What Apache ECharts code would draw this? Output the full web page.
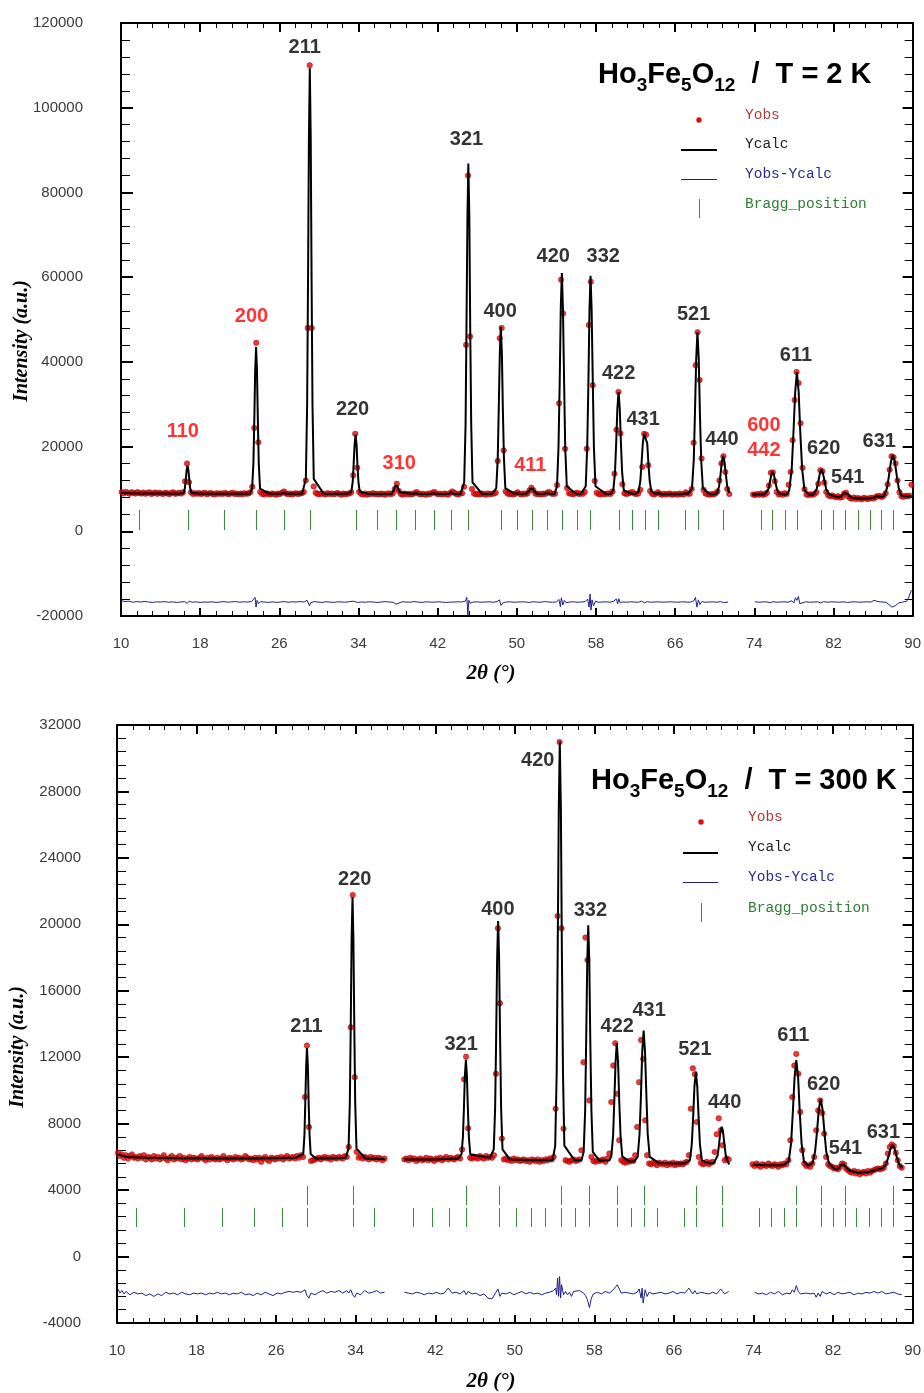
<!DOCTYPE html>
<html>
<head>
<meta charset="utf-8">
<title>Ho3Fe5O12 neutron diffraction refinement</title>
<script src="https://cdn.jsdelivr.net/npm/echarts@6/dist/echarts.min.js"></script>
<style>
  html, body { margin: 0; padding: 0; background: #ffffff; }
  #chart { width: 924px; height: 1393px; }
</style>
</head>
<body>
<div id="chart"></div>
<script>
// ---------------------------------------------------------------------------
// Axis ranges and tick spacing
// ---------------------------------------------------------------------------
const twoThetaRange = [10, 90];
const twoThetaStep = 8;
const intensityRange2K = [-20000, 120000];
const intensityStep2K = 20000;
const intensityRange300K = [-4000, 32000];
const intensityStep300K = 4000;

// Step of the 2θ scan (degrees)
const scanStep = 0.2;

// ---------------------------------------------------------------------------
// T = 2 K : observed counts on the scan grid (two measured ranges)
// ---------------------------------------------------------------------------
const obs2KStartA = 10.07;
const obs2KA = [
  9250, 8950, 9300, 9100, 8850, 9200, 9050, 8900, 9250, 9000,
  8900, 9150, 8850, 9050, 9200, 8800, 9000, 9150, 8850, 9100,
  8950, 8800, 9100, 9000, 8750, 9050, 9200, 8850, 8950, 9100,
  8900, 9200, 11800, 16000, 11600, 9200, 8800, 9000, 8850, 9050,
  8800, 8950, 9100, 8750, 8900, 9050, 8800, 8700, 9000, 8850,
  8950, 8800, 9050, 8900, 8750, 8950, 9100, 8800, 8900, 8750,
  8900, 8750, 9000, 8850, 8950, 9200, 10500, 24400, 44500, 21000,
  9300, 8800, 8700, 8950, 8850, 8700, 8900, 8800, 8650, 8900,
  8800, 9100, 9400, 8950, 8750, 8900, 8700, 8850, 9000, 8800,
  8900, 9000, 9300, 12000, 48000, 110000, 48000, 10600, 9100, 8800,
  8750, 8950, 8850, 8700, 9000, 8800, 8900, 8750, 8850, 9050,
  8800, 8650, 8900, 8750, 8850, 8950, 9200, 13200, 23000, 15000,
  9300, 8800, 8700, 8900, 8650, 8850, 8800, 9000, 8750, 8850,
  8700, 8900, 8800, 8650, 8850, 8950, 8750, 9000, 10000, 11200,
  9500, 8800, 8650, 8900, 8750, 8850, 8700, 8800, 9000, 9250,
  8900, 8700, 8850, 8750, 8650, 8900, 8800, 9100, 9300, 8900,
  8750, 8850, 8700, 8900, 8800, 8650, 9050, 9400, 9100, 8800,
  8700, 8900, 9000, 10500, 44000, 84000, 46000, 10000, 8900, 8750,
  8850, 8700, 8900, 8800, 8650, 8950, 8750, 8850, 8900, 9100,
  16600, 45600, 48000, 19100, 9400, 8900, 8750, 8850, 8700, 8900,
  9200, 8850, 8700, 8900, 8800, 8950, 9600, 10300, 9700, 8900,
  8750, 8850, 8700, 8900, 8800, 9100, 9300, 8950, 8800, 8900,
  10900, 30200, 59400, 51400, 19500, 10200, 9000, 8850, 8750, 8900,
  9100, 8800, 8950, 8850, 9300, 19500, 48700, 58900, 34500, 11900,
  9100, 8800, 8700, 8900, 8750, 8850, 8950, 8800, 9400, 13600,
  24000, 32900, 23100, 11100, 9000, 8800, 8950, 9100, 9300, 8900,
  8800, 8900, 9800, 15200, 23000, 22800, 15600, 9500, 8850, 8700,
  8900, 9200, 8800, 8650, 8850, 8700, 8800, 8900, 8650, 8750,
  8800, 8650, 8900, 8750, 8700, 9200, 8900, 8850, 10000, 20900,
  39200, 47000, 35700, 17200, 9800, 8900, 8750, 8650, 8800, 8700,
  8900, 9400, 12000, 16000, 17700, 14000, 10000, 8800
];
const obs2KStartB = 73.87;
const obs2KB = [
  8700, 8550, 8800, 8650, 8900, 8600, 8750, 9100, 10800, 13800,
  13900, 11800, 9300, 8700, 8850, 8600, 9000, 8800, 11000, 14000,
  21500, 31000, 37600, 35000, 25500, 15000, 9900, 8700, 8550, 8750,
  8600, 8800, 9200, 11200, 14400, 14200, 11500, 9300, 8500, 8300,
  8450, 8200, 8050, 8300, 7950, 8100, 8900, 9100, 8300, 7850,
  7700, 7950, 7600, 7850, 7700, 7550, 7900, 7750, 7650, 7850,
  7900, 7750, 8100, 8350, 8300, 8100, 8400, 9000, 11100, 14500,
  17700, 17500, 16000, 12000, 9200, 8300, 8150, 8400, 8250, 8400,
  11000
];

// T = 2 K : calculated profile [2θ, counts]
const calc2KA = [
  [10.0, 9050], [12.0, 8950], [14.0, 8900], [16.0, 8850],
  [16.34, 9080], [16.46, 10250], [16.55, 12180], [16.63, 14440], [16.72, 15500], [16.81, 14440], [16.9, 12180], [16.98, 10250], [17.11, 9080],
  [18.0, 8850], [20.0, 8850], [22.0, 8850], [23.0, 8850],
  [23.25, 10060], [23.38, 16130], [23.47, 26180], [23.56, 37960], [23.65, 43500], [23.74, 37960], [23.83, 26180], [23.92, 16130], [24.05, 10060],
  [25.0, 8850], [26.2, 8850], [26.44, 9150], [26.7, 8850], [28.3, 8850],
  [28.68, 12370], [28.81, 29950], [28.9, 59080], [28.99, 93230], [29.08, 109300], [29.17, 93230], [29.26, 59080], [29.35, 29950], [29.48, 12370],
  [30.5, 8800], [32.5, 8850], [33.0, 8850],
  [33.28, 9340], [33.42, 11790], [33.51, 15850], [33.61, 20610], [33.7, 22850], [33.8, 20610], [33.89, 15850], [33.99, 11790], [34.12, 9340],
  [35.0, 8800], [37.0, 8800],
  [37.36, 8880], [37.51, 9280], [37.61, 9950], [37.72, 10730], [37.82, 11100], [37.93, 10730], [38.03, 9950], [38.14, 9280], [38.28, 8880],
  [39.5, 8800], [39.76, 9050], [40.0, 8800], [41.3, 8800], [41.58, 9050], [41.85, 8800], [43.1, 8800], [43.36, 9250], [43.6, 8800], [44.3, 8800],
  [44.68, 11530], [44.82, 25180], [44.91, 47800], [45.01, 74320], [45.1, 86800], [45.2, 74320], [45.29, 47800], [45.39, 25180], [45.52, 11530],
  [46.5, 8800], [47.5, 8800],
  [47.92, 10180], [48.07, 17100], [48.17, 28550], [48.28, 41980], [48.38, 48300], [48.49, 41980], [48.59, 28550], [48.7, 17100], [48.84, 10180],
  [49.8, 8800], [50.02, 9000], [50.3, 8800],
  [50.93, 8850], [51.11, 9100], [51.23, 9530], [51.36, 10020], [51.48, 10250], [51.61, 10020], [51.73, 9530], [51.86, 9100], [52.03, 8850],
  [52.8, 8800], [53.05, 9050], [53.3, 8800], [53.8, 8800],
  [54.06, 10630], [54.21, 19760], [54.33, 34900], [54.44, 52650], [54.55, 61000], [54.66, 52650], [54.78, 34900], [54.89, 19760], [55.05, 10630],
  [56.0, 8800], [56.5, 8850],
  [56.96, 10650], [57.11, 19670], [57.23, 34600], [57.34, 52110], [57.45, 60350], [57.56, 52110], [57.68, 34600], [57.79, 19670], [57.95, 10650],
  [59.0, 8800], [59.5, 8850],
  [59.75, 9690], [59.92, 13890], [60.04, 20850], [60.16, 29010], [60.28, 32850], [60.4, 29010], [60.52, 20850], [60.64, 13890], [60.81, 9690],
  [61.6, 8850], [62.0, 8850],
  [62.3, 9350], [62.48, 11820], [62.6, 15930], [62.73, 20740], [62.85, 23000], [63.05, 23000], [63.18, 20740], [63.3, 15930], [63.43, 11820], [63.6, 9350],
  [64.0, 8800], [64.3, 9050], [64.6, 8750], [66.7, 8750], [67.0, 9000], [67.3, 8800],
  [67.7, 10140], [67.88, 16820], [68.0, 27900], [68.13, 40890], [68.25, 47000], [68.38, 40890], [68.5, 27900], [68.63, 16820], [68.8, 10140],
  [69.5, 8750], [70.0, 8750],
  [70.25, 9070], [70.44, 10650], [70.58, 13280], [70.71, 16350], [70.85, 17800], [70.99, 16350], [71.13, 13280], [71.26, 10650], [71.46, 9070]
];
const calc2KB = [
  [73.8, 8700], [75.0, 8700],
  [75.19, 8890], [75.4, 9810], [75.55, 11350], [75.7, 13150], [75.85, 14000], [76.0, 13150], [76.15, 11350], [76.3, 9810], [76.51, 8890],
  [77.0, 8700], [77.3, 8700],
  [77.53, 9710], [77.78, 14750], [77.95, 23100], [78.13, 32890], [78.3, 37500], [78.48, 32890], [78.65, 23100], [78.83, 14750], [79.07, 9710],
  [79.6, 8650], [79.95, 8650],
  [80.07, 8860], [80.29, 9900], [80.46, 11630], [80.62, 13650], [80.78, 14600], [80.94, 13650], [81.11, 11630], [81.27, 9900], [81.5, 8860],
  [82.0, 8300],
  [82.54, 7990], [82.75, 8200], [82.9, 8550], [83.05, 8960], [83.2, 9150], [83.35, 8960], [83.5, 8550], [83.65, 8200], [83.86, 7900],
  [84.5, 7750], [85.5, 7750], [86.0, 7850], [86.45, 8350], [86.9, 8050],
  [87.12, 8400], [87.4, 10140], [87.6, 13030], [87.8, 16410], [88.0, 18000], [88.2, 16410], [88.4, 13030], [88.6, 10140], [88.88, 8400],
  [89.3, 8250], [89.87, 8300]
];

// T = 2 K : Yobs - Ycalc, shifted below the pattern
const diff2KA = [
  [10.0, -16300], [10.4, -16600], [10.8, -16500], [11.2, -16750], [11.6, -16600], [12.0, -16700], [12.4, -16550], [12.8, -16700],
  [13.2, -16800], [13.6, -16650], [14.0, -16700], [14.4, -16600], [14.8, -16750], [15.2, -16650], [15.6, -16800], [16.0, -16700],
  [16.4, -16600], [16.7, -17000], [16.9, -16500], [17.2, -16750], [17.6, -16650], [18.0, -16800], [18.4, -16700], [18.8, -16750],
  [19.2, -16650], [19.6, -16800], [20.0, -16700], [20.4, -16600], [20.8, -16750], [21.2, -16650], [21.6, -16600], [22.0, -16750],
  [22.4, -16650], [22.8, -16700], [23.2, -16600], [23.4, -16400], [23.55, -15600], [23.65, -17900], [23.75, -16300], [23.9, -17100],
  [24.1, -16600], [24.5, -16700], [24.9, -16800], [25.3, -16650], [25.7, -16800], [26.1, -16700], [26.5, -16600], [26.9, -16750],
  [27.3, -16650], [27.7, -16700], [28.1, -16600], [28.5, -16700], [28.8, -16300], [28.95, -16000], [29.05, -17600], [29.15, -16900],
  [29.3, -17300], [29.5, -16600], [29.9, -16700], [30.3, -16800], [30.7, -16650], [31.1, -16700], [31.5, -16800], [31.9, -16650],
  [32.3, -16700], [32.7, -16750], [33.1, -16600], [33.5, -16500], [33.7, -16900], [33.9, -16800], [34.3, -16700], [34.7, -16750],
  [35.1, -16650], [35.5, -16700], [35.9, -16800], [36.3, -16700], [36.7, -16600], [37.1, -16700], [37.5, -16750], [37.8, -17200],
  [38.0, -16800], [38.4, -16650], [38.8, -16700], [39.2, -16750], [39.6, -16600], [40.0, -16700], [40.4, -16800], [40.8, -16650],
  [41.2, -16700], [41.6, -16750], [42.0, -16650], [42.4, -16700], [42.8, -16800], [43.2, -16750], [43.4, -17200], [43.6, -16700],
  [44.0, -16650], [44.4, -16700], [44.8, -16500], [44.95, -15600], [45.05, -19800], [45.15, -16300], [45.3, -17000], [45.6, -16700],
  [46.0, -16650], [46.4, -16750], [46.8, -16700], [47.2, -16650], [47.6, -16750], [48.0, -16600], [48.25, -16200], [48.4, -17500],
  [48.6, -16900], [48.9, -16700], [49.3, -16650], [49.7, -16750], [50.1, -16700], [50.5, -16650], [50.9, -16700], [51.3, -16800],
  [51.6, -16650], [52.0, -16700], [52.4, -16750], [52.8, -16600], [53.2, -16700], [53.6, -16750], [54.0, -16700], [54.25, -16100],
  [54.4, -17800], [54.5, -15700], [54.65, -17400], [54.8, -16300], [55.0, -16900], [55.3, -16700], [55.7, -16650], [56.1, -16750],
  [56.5, -16700], [56.9, -16600], [57.15, -16000], [57.3, -17900], [57.4, -14800], [57.5, -18600], [57.6, -16200], [57.75, -17600],
  [57.95, -16500], [58.2, -16750], [58.6, -16700], [59.0, -16650], [59.4, -16750], [59.8, -16500], [60.05, -16000], [60.2, -17100],
  [60.3, -15900], [60.45, -16900], [60.7, -16700], [61.1, -16750], [61.5, -16650], [61.9, -16700], [62.3, -16750], [62.6, -16500],
  [62.9, -16900], [63.2, -16600], [63.5, -16750], [63.9, -16700], [64.3, -16650], [64.7, -16750], [65.1, -16700], [65.5, -16650],
  [65.9, -16700], [66.3, -16750], [66.7, -16650], [67.1, -16700], [67.5, -16750], [67.9, -16400], [68.05, -15600], [68.2, -17900],
  [68.35, -16200], [68.5, -17300], [68.7, -16600], [69.0, -16750], [69.4, -16700], [69.8, -16650], [70.2, -16750], [70.6, -16600],
  [70.9, -16850], [71.1, -16600], [71.35, -16700]
];
const diff2KB = [
  [74.06, -16650], [74.4, -16750], [74.8, -16700], [75.2, -16650], [75.6, -16850], [75.9, -16600], [76.2, -16750], [76.6, -16700],
  [77.0, -16650], [77.4, -16750], [77.8, -16400], [78.0, -16900], [78.15, -15700], [78.3, -16300], [78.45, -15400], [78.6, -17100],
  [78.8, -16700], [79.2, -16650], [79.6, -16750], [80.0, -16700], [80.4, -16650], [80.7, -16900], [81.0, -16600], [81.4, -16750],
  [81.8, -16650], [82.2, -16700], [82.6, -16750], [83.0, -16650], [83.4, -16800], [83.8, -16700], [84.2, -16650], [84.6, -16750],
  [85.0, -16700], [85.4, -16650], [85.8, -16700], [86.1, -16300], [86.25, -15900], [86.5, -16600], [86.9, -16700], [87.3, -16750],
  [87.6, -17300], [87.9, -17900], [88.1, -18200], [88.3, -17500], [88.6, -16900], [89.0, -16700], [89.4, -16500], [89.6, -15600],
  [89.87, -13900]
];

// T = 2 K : Bragg reflection positions (2θ) and tick span (counts)
const bragg2K = [
  11.82, 16.73, 20.42, 23.69, 26.44, 29.14, 33.71, 35.86, 37.81, 39.76, 41.58, 43.36, 45.11,
  48.37, 50.02, 51.49, 53.05, 54.52, 56.03, 57.38, 60.34, 61.65, 62.96, 64.30, 67.00, 68.28,
  70.83, 74.64, 75.81, 77.09, 78.33, 80.75, 81.96, 83.21, 84.48, 85.66, 86.80, 88.01
];
const bragg2KSpan = [250, 5000];

// T = 2 K : reflection indices [hkl, 2θ, counts]
const hkl2K = [
  ['110', 16.25, 23620], ['200', 23.19, 50780], ['211', 28.56, 114200], ['220', 33.40, 28820],
  ['310', 38.12, 16060], ['321', 44.91, 92590], ['400', 48.31, 51960], ['411', 51.36, 15590],
  ['420', 53.68, 64960], ['332', 58.73, 64960], ['422', 60.29, 37320], ['431', 62.76, 26450],
  ['521', 67.86, 51260], ['440', 70.73, 21730], ['600', 74.97, 25040], ['442', 74.97, 19130],
  ['611', 78.20, 41570], ['620', 81.02, 19600], ['541', 83.44, 12750], ['631', 86.62, 21140]
];
const magneticHkl2K = ['110', '200', '310', '411', '600', '442'];

// ---------------------------------------------------------------------------
// T = 300 K : observed counts on the scan grid (three measured ranges)
// ---------------------------------------------------------------------------
const obs300KStartA = 10.1;
const obs300KA = [
  6250, 6050, 6150, 5950, 6100, 5900, 6050, 6150, 5950, 6000,
  5900, 6050, 5950, 6100, 5850, 6000, 5950, 5850, 6050, 5900,
  6000, 5850, 5950, 6100, 5900, 5800, 5950, 6050, 5850, 5950,
  5900, 6050, 5850, 5950, 5800, 5900, 6000, 5850, 5950, 5900,
  5850, 5950, 6050, 5900, 5800, 5950, 5850, 6000, 5900, 5850,
  5950, 5850, 5900, 6050, 5900, 5800, 5950, 5900, 5850, 6000,
  5900, 5950, 5850, 5900, 6050, 5950, 5850, 5900, 5800, 5950,
  5850, 5950, 5700, 5900, 6000, 5850, 5750, 5950, 5900, 5850,
  5950, 5900, 6000, 5850, 5950, 6050, 5900, 5950, 6000, 5900,
  6050, 5950, 6100, 6000, 9600, 12700, 7800, 5750, 5800, 5850,
  5900, 5950, 5850, 5950, 6000, 5900, 5950, 5850, 6000, 5950,
  5900, 6000, 5950, 5900, 6050, 6000, 6600, 13800, 21760, 10800,
  6300, 5950, 6050, 5900, 6000, 5950, 5850, 6000, 5900, 5950,
  5850, 5950, 5900, 5800, 5900
];
const obs300KStartB = 38.9;
const obs300KB = [
  5850, 5900, 5800, 5950, 5850, 5900, 5750, 5850, 5900, 5800,
  5850, 5950, 5800, 5900, 5850, 5750, 5900, 5850, 5950, 5800,
  5900, 6000, 5850, 5950, 5900, 5850, 5950, 6000, 5900, 6450,
  10670, 12030, 7720, 5950, 5900, 6000, 5950, 5900, 6050, 5950,
  5900, 6050, 5950, 6000, 5950, 6100, 11000, 19760, 15250, 7100,
  5850, 5900, 5800, 5850, 5750, 5900, 5800, 5850, 5750, 5800,
  5850, 5750, 5800, 5700, 5850, 5800, 5750, 5850, 5700, 5800,
  5750, 5850, 5800, 5900, 5850, 6000, 8900, 20500, 30970, 19760,
  7700, 5800, 5750, 5700, 5800, 5850, 5750, 5800, 5850, 6400,
  11700, 19200, 17850, 9400, 6000, 5750, 5700, 5800, 5750, 5800,
  5850, 5700, 5900, 6200, 9300, 11500, 12840, 9800, 7000, 5800,
  5700, 5650, 5750, 5700, 5800, 5750, 6100, 7800, 10500, 13040,
  11900, 8200, 6100, 5600, 5550, 5650, 5600, 5500, 5650, 5600,
  5550, 5650, 5500, 5600, 5550, 5650, 5500, 5600, 5550, 5600,
  5550, 5650, 5700, 6100, 8900, 11330, 10970, 8100, 6000, 5650,
  5550, 5600, 5700, 5550, 5650, 5700, 6300, 7360, 8320, 7600,
  6700, 5800, 5900, 5850
];
const obs300KStartC = 73.9;
const obs300KC = [
  5550, 5450, 5600, 5500, 5400, 5550, 5500, 5450, 5600, 5500,
  5450, 5550, 5500, 5400, 5550, 5500, 5600, 5550, 5800, 7000,
  9600, 11500, 12200, 11000, 8700, 6400, 5600, 5450, 5500, 5400,
  5600, 6000, 7600, 8800, 9400, 8640, 7400, 6000, 5550, 5450,
  5400, 5300, 5350, 5250, 5400, 5600, 5550, 5300, 5200, 5100,
  5050, 5150, 5000, 5100, 4950, 5050, 5100, 5000, 5150, 5050,
  5150, 5200, 5250, 5300, 5250, 5300, 5350, 5600, 6200, 6600,
  6750, 6650, 6250, 5800, 5450, 5350
];

// T = 300 K : calculated profile [2θ, counts]
const calc300KA = [
  [10.05, 6150], [11.0, 6000], [13.0, 5950], [16.0, 5920], [20.0, 5900], [24.0, 5900], [28.0, 5950],
  [28.73, 6180], [28.85, 7340], [28.93, 9250], [29.02, 11490], [29.1, 12550], [29.19, 11490], [29.27, 9250], [29.36, 7340], [29.47, 6180],
  [30.0, 5900], [32.0, 5920], [33.0, 5950],
  [33.28, 6500], [33.41, 9250], [33.5, 13800], [33.59, 19140], [33.68, 21650], [33.77, 19140], [33.86, 13800], [33.95, 9250], [34.08, 6500],
  [35.0, 5900], [36.95, 5880]
];
const calc300KB = [
  [38.85, 5850], [42.0, 5850], [44.3, 5900],
  [44.64, 6160], [44.78, 7190], [44.88, 8900], [44.98, 10910], [45.08, 11850], [45.18, 10910], [45.28, 8900], [45.38, 7190], [45.52, 6160],
  [47.5, 5950],
  [47.88, 6450], [48.02, 8940], [48.12, 13080], [48.22, 17920], [48.32, 20200], [48.42, 17920], [48.52, 13080], [48.62, 8940], [48.76, 6450],
  [49.5, 5850], [52.0, 5800], [53.8, 5800],
  [54.06, 6680], [54.21, 11090], [54.31, 18400], [54.42, 26970], [54.52, 31000], [54.63, 26970], [54.73, 18400], [54.84, 11090], [54.98, 6680],
  [56.0, 5800], [56.7, 5800],
  [56.92, 6300], [57.07, 8770], [57.17, 12880], [57.28, 17690], [57.38, 19950], [57.49, 17690], [57.59, 12880], [57.7, 8770], [57.84, 6300],
  [58.5, 5780], [59.5, 5780],
  [59.7, 6030], [59.88, 7270], [60.0, 9320], [60.13, 11720], [60.25, 12850], [60.38, 11720], [60.5, 9320], [60.63, 7270], [60.8, 6030],
  [61.5, 5720], [62.0, 5720],
  [62.35, 6000], [62.54, 7380], [62.68, 9660], [62.81, 12340], [62.95, 13600], [63.09, 12340], [63.23, 9660], [63.36, 7380], [63.56, 6000],
  [64.5, 5620], [67.0, 5600],
  [67.6, 5790], [67.79, 6760], [67.93, 8370], [68.06, 10250], [68.2, 11130], [68.34, 10250], [68.48, 8370], [68.61, 6760], [68.81, 5790],
  [69.5, 5620], [70.0, 5620],
  [70.2, 5700], [70.39, 6080], [70.53, 6720], [70.66, 7470], [70.8, 7820], [70.94, 7470], [71.08, 6720], [71.21, 6080], [71.41, 5700], [71.57, 5550]
];
const calc300KC = [
  [73.95, 5520], [75.5, 5500], [77.0, 5500],
  [77.53, 5720], [77.78, 6830], [77.95, 8670], [78.13, 10820], [78.3, 11830], [78.48, 10820], [78.65, 8670], [78.83, 6830], [79.07, 5720],
  [79.5, 5480],
  [79.93, 5620], [80.19, 6320], [80.38, 7490], [80.56, 8850], [80.75, 9490], [80.94, 8850], [81.13, 7490], [81.31, 6320], [81.58, 5620],
  [82.0, 5350],
  [82.31, 5210], [82.52, 5280], [82.67, 5390], [82.82, 5520], [82.97, 5580], [83.12, 5520], [83.27, 5390], [83.42, 5280], [83.63, 5180],
  [84.5, 5050], [85.5, 5080], [86.5, 5250],
  [87.05, 5330], [87.34, 5580], [87.56, 6000], [87.77, 6490], [87.98, 6720], [88.19, 6490], [88.4, 6000], [88.62, 5580], [88.97, 5330]
];

// T = 300 K : Yobs - Ycalc, shifted below the pattern
const diff300KA = [
  [10.1, -1950], [10.3, -2200], [10.5, -2050], [10.7, -2250], [10.9, -2100], [11.3, -2300], [11.7, -2150], [12.1, -2250],
  [12.5, -2200], [12.9, -2350], [13.3, -2250], [13.7, -2400], [14.1, -2250], [14.5, -2350], [14.9, -2150], [15.3, -2250],
  [15.7, -2200], [16.1, -2300], [16.5, -2150], [16.9, -2250], [17.3, -2300], [17.7, -2200], [18.1, -2250], [18.5, -2200],
  [18.9, -2300], [19.3, -2200], [19.7, -2250], [20.1, -2150], [20.5, -2250], [20.9, -2200], [21.3, -2300], [21.7, -2200],
  [22.1, -2250], [22.5, -2150], [22.9, -2300], [23.3, -2250], [23.7, -2350], [24.1, -2200], [24.5, -2300], [24.9, -2150],
  [25.3, -2250], [25.7, -2350], [26.1, -2200], [26.5, -2250], [26.9, -2150], [27.3, -2100], [27.7, -2150], [28.1, -2100],
  [28.5, -2150], [28.9, -2000], [29.1, -2350], [29.3, -2500], [29.5, -2200], [29.9, -2300], [30.3, -2150], [30.7, -2050],
  [31.1, -2200], [31.5, -2100], [31.9, -2150], [32.3, -2050], [32.7, -2200], [33.1, -2050], [33.3, -2200], [33.5, -2000],
  [33.7, -2300], [33.9, -2450], [34.1, -2200], [34.5, -2300], [34.9, -2050], [35.3, -2200], [35.7, -2150], [36.1, -2050],
  [36.5, -2200], [36.9, -2150]
];
const diff300KB = [
  [38.9, -2150], [39.3, -2200], [39.7, -2250], [40.1, -2150], [40.5, -2200], [40.9, -2300], [41.3, -2200], [41.7, -2250],
  [42.1, -2150], [42.5, -2250], [42.9, -2200], [43.3, -1900], [43.7, -2200], [44.1, -2150], [44.5, -2250], [44.9, -2050],
  [45.1, -2300], [45.3, -2100], [45.7, -2250], [46.1, -2200], [46.5, -2350], [46.9, -2250], [47.3, -2500], [47.7, -2550],
  [48.1, -2150], [48.3, -1950], [48.5, -2400], [48.7, -2200], [49.1, -2250], [49.5, -2150], [49.9, -2300], [50.3, -2200],
  [50.7, -2100], [51.1, -2250], [51.5, -2150], [51.9, -2250], [52.3, -2200], [52.7, -2300], [53.1, -2200], [53.5, -2150],
  [53.9, -2050], [54.1, -1900], [54.2, -2300], [54.3, -1300], [54.4, -2400], [54.5, -1200], [54.6, -2500], [54.7, -1700],
  [54.9, -2300], [55.1, -2100], [55.3, -2300], [55.5, -2150], [55.7, -2400], [55.9, -2100], [56.1, -2200], [56.5, -2050],
  [56.9, -2200], [57.1, -2350], [57.3, -2600], [57.5, -3070], [57.7, -2500], [57.9, -2250], [58.3, -2150], [58.7, -2250],
  [59.1, -2100], [59.5, -2200], [59.9, -2000], [60.1, -1850], [60.3, -1700], [60.5, -1950], [60.7, -2200], [61.1, -2150],
  [61.5, -2200], [61.9, -2250], [62.3, -2150], [62.5, -1950], [62.7, -2500], [62.8, -1900], [62.9, -2800], [63.1, -2000],
  [63.3, -2400], [63.5, -2150], [63.9, -2250], [64.3, -2200], [64.7, -2150], [65.1, -2250], [65.5, -2200], [65.9, -2100],
  [66.3, -2250], [66.7, -2150], [67.1, -2200], [67.5, -1900], [67.9, -2250], [68.1, -2050], [68.3, -2250], [68.7, -2150],
  [69.1, -2200], [69.5, -2250], [69.9, -2150], [70.3, -2250], [70.7, -1950], [70.9, -2100], [71.1, -2250], [71.5, -2100]
];
const diff300KC = [
  [74.1, -2150], [74.5, -2250], [74.9, -2200], [75.3, -2300], [75.7, -2150], [76.1, -2250], [76.5, -2100], [76.9, -2300],
  [77.3, -2200], [77.7, -2250], [77.9, -2000], [78.1, -2150], [78.3, -1750], [78.5, -2100], [78.7, -2250], [78.9, -2150],
  [79.3, -2200], [79.7, -2250], [80.1, -2200], [80.3, -2450], [80.5, -2200], [80.7, -2400], [80.9, -2100], [81.3, -2250],
  [81.7, -2150], [82.1, -2300], [82.5, -2150], [82.9, -2250], [83.3, -2200], [83.7, -2150], [84.1, -2300], [84.5, -2200],
  [84.9, -2250], [85.3, -2150], [85.7, -2200], [86.1, -2100], [86.5, -2200], [86.9, -2100], [87.3, -2250], [87.7, -2200],
  [88.1, -2150], [88.5, -2250], [88.9, -2300]
];

// T = 300 K : Bragg positions, two rows of ticks
const braggUpper300K = [29.13, 33.70, 45.13, 48.40, 54.60, 57.50, 60.30, 63.00, 68.20, 70.80, 78.30, 80.77, 83.20, 88.00];
const braggUpper300KSpan = [3100, 4250];
const braggLower300K = [
  11.90, 16.73, 20.53, 23.77, 26.57, 29.13, 33.70, 35.83, 39.77, 41.67, 43.43, 45.13, 48.40,
  50.07, 51.60, 53.03, 54.60, 56.07, 57.50, 60.30, 61.67, 63.00, 64.33, 67.03, 68.20, 70.80,
  74.60, 75.80, 77.07, 78.30, 80.77, 82.00, 83.20, 84.33, 85.57, 86.80, 88.00
];
const braggLower300KSpan = [1750, 2950];

// T = 300 K : reflection indices [hkl, 2θ, counts]
const hkl300K = [
  ['211', 29.05, 13880], ['220', 33.90, 22670], ['321', 44.60, 12740], ['400', 48.30, 20920],
  ['420', 52.30, 29860], ['332', 57.60, 20860], ['422', 60.30, 13880], ['431', 63.50, 14840],
  ['521', 68.10, 12440], ['440', 71.10, 9250], ['611', 78.00, 13280], ['620', 81.05, 10330],
  ['541', 83.25, 6480], ['631', 87.05, 7440]
];
const magneticHkl300K = [];

// ---------------------------------------------------------------------------
// Styles
// ---------------------------------------------------------------------------
const OBS_RED = '#e00a0a';
const CALC_BLACK = '#000000';
const DIFF_BLUE = '#1f1f8c';
const BRAGG_GREEN = '#3b8a3b';
const tickFont = { fontFamily: 'Liberation Sans', fontSize: 15, color: '#3a3a3a' };

// Expand a constant-step scan into [2θ, counts] pairs
function scan(start, values) {
  return values.map((v, i) => [Math.round((start + i * scanStep) * 100) / 100, v]);
}

function xAxesFor(gridIndex) {
  const base = {
    type: 'value', gridIndex,
    min: twoThetaRange[0], max: twoThetaRange[1], interval: twoThetaStep,
    splitLine: { show: false },
    axisLine: { show: true, onZero: false, lineStyle: { color: '#000', width: 2 } }
  };
  return [
    Object.assign({}, base, {
      position: 'bottom',
      axisTick: { show: true, inside: true, length: 8, lineStyle: { color: '#000', width: 2 } },
      minorTick: { show: true, splitNumber: 5, length: 5, lineStyle: { color: '#000', width: 1 } },
      axisLabel: Object.assign({ margin: 20, showMinLabel: true, showMaxLabel: true, formatter: v => String(v) }, tickFont)
    }),
    Object.assign({}, base, {
      position: 'top',
      axisTick: { show: true, inside: true, length: 9, lineStyle: { color: '#000', width: 2 } },
      minorTick: { show: true, splitNumber: 5, length: 5, lineStyle: { color: '#000', width: 1 } },
      axisLabel: { show: false }
    })
  ];
}

function yAxesFor(gridIndex, range, step, margin) {
  const base = {
    type: 'value', gridIndex,
    min: range[0], max: range[1], interval: step,
    splitLine: { show: false },
    axisLine: { show: true, onZero: false, lineStyle: { color: '#000', width: 2 } }
  };
  return [
    Object.assign({}, base, {
      position: 'left',
      axisTick: { show: true, inside: true, length: 12, lineStyle: { color: '#000', width: 2 } },
      minorTick: { show: true, splitNumber: 5, length: 9, lineStyle: { color: '#000', width: 1 } },
      axisLabel: Object.assign({ margin, showMinLabel: true, showMaxLabel: true, formatter: v => String(v) }, tickFont)
    }),
    Object.assign({}, base, {
      position: 'right',
      axisTick: { show: true, inside: true, length: 10, lineStyle: { color: '#000', width: 2 } },
      minorTick: { show: true, splitNumber: 5, length: 8, lineStyle: { color: '#000', width: 1 } },
      axisLabel: { show: false }
    })
  ];
}

function obsSeries(points, xi, yi) {
  return {
    type: 'scatter', xAxisIndex: xi, yAxisIndex: yi, data: points,
    symbol: 'circle', symbolSize: 5.5, silent: true, z: 2,
    itemStyle: { color: OBS_RED, borderColor: '#a80000', borderWidth: 0.6 }
  };
}

function lineSeries(points, xi, yi, color, width, z) {
  return {
    type: 'line', xAxisIndex: xi, yAxisIndex: yi, data: points,
    showSymbol: false, symbol: 'none', silent: true, z,
    lineStyle: { color, width }
  };
}

function braggSeries(positions, span, xi, yi) {
  return {
    type: 'custom', xAxisIndex: xi, yAxisIndex: yi, silent: true, z: 3,
    data: positions.map(p => [p, span[0], span[1]]),
    encode: { x: 0, y: [1, 2] },
    renderItem: (params, api) => {
      const a = api.coord([api.value(0), api.value(1)]);
      const b = api.coord([api.value(0), api.value(2)]);
      const x = Math.round(a[0]) + 0.5;
      return {
        type: 'line',
        shape: { x1: x, y1: Math.round(a[1]), x2: x, y2: Math.round(b[1]) },
        style: { stroke: BRAGG_GREEN, lineWidth: 1 }
      };
    }
  };
}

function hklSeries(list, magnetic, xi, yi) {
  return {
    type: 'scatter', xAxisIndex: xi, yAxisIndex: yi, silent: true, z: 10,
    symbol: 'circle', symbolSize: 1,
    itemStyle: { color: 'rgba(0,0,0,0)' },
    label: {
      show: true, position: 'inside', formatter: p => p.name,
      fontFamily: 'Liberation Sans', fontWeight: 'bold', fontSize: 20
    },
    data: list.map(([h, x, y]) => ({
      name: h, value: [x, y],
      label: { color: magnetic.includes(h) ? '#ff0000' : '#000000' }
    }))
  };
}

// Title with chemical subscripts
function titleText(x, y, temperature) {
  return {
    type: 'text', x, y, silent: true, z: 20,
    style: {
      text: '{m|Ho}{s|3}{m|Fe}{s|5}{m|O}{s|12}{m|  /  T = ' + temperature + ' K}',
      align: 'left', verticalAlign: 'top',
      rich: {
        m: { fontFamily: 'Liberation Sans', fontWeight: 'bold', fontSize: 29, lineHeight: 40, fill: '#000', verticalAlign: 'middle' },
        s: { fontFamily: 'Liberation Sans', fontWeight: 'bold', fontSize: 19, lineHeight: 40, fill: '#000', verticalAlign: 'bottom' }
      }
    }
  };
}

function legendBlock(g) {
  const monoFont = { fontFamily: 'Liberation Mono', fontSize: 14.5 };
  const label = (text, y, fill) => ({
    type: 'text', x: g.textX, y, silent: true, z: 20,
    style: Object.assign({ text, fill, align: 'left', verticalAlign: 'middle' }, monoFont)
  });
  return [
    { type: 'circle', shape: { cx: g.markX, cy: g.rows[0] + 5, r: 2.7 }, style: { fill: OBS_RED }, silent: true, z: 20 },
    label('Yobs', g.rows[0], '#b03a3a'),
    { type: 'line', shape: { x1: g.lineX[0], y1: g.rows[1] + 6, x2: g.lineX[1], y2: g.rows[1] + 6 }, style: { stroke: CALC_BLACK, lineWidth: 2 }, silent: true, z: 20 },
    label('Ycalc', g.rows[1], '#222222'),
    { type: 'line', shape: { x1: g.lineX[0], y1: g.rows[2] + 5.5, x2: g.lineX[1], y2: g.rows[2] + 5.5 }, style: { stroke: DIFF_BLUE, lineWidth: 1 }, silent: true, z: 20 },
    label('Yobs-Ycalc', g.rows[2], '#2b2b8c'),
    { type: 'line', shape: { x1: g.markX + 0.5, y1: g.rows[3] - 5, x2: g.markX + 0.5, y2: g.rows[3] + 14 }, style: { stroke: BRAGG_GREEN, lineWidth: 1 }, silent: true, z: 20 },
    label('Bragg_position', g.rows[3], '#2e7d32')
  ];
}

function axisName(text, x, y, rotated, size) {
  return {
    type: 'text', x, y, rotation: rotated ? Math.PI / 2 : 0, silent: true, z: 20,
    style: {
      text, fill: '#000', align: 'center', verticalAlign: 'middle',
      fontFamily: 'Liberation Serif', fontStyle: 'italic', fontWeight: 'bold', fontSize: size
    }
  };
}

const chart = echarts.init(document.getElementById('chart'), null, { renderer: 'canvas' });

chart.setOption({
  animation: false,
  backgroundColor: '#ffffff',
  grid: [
    { left: 121, top: 23, width: 793, height: 593 },
    { left: 117, top: 725, width: 800, height: 598 }
  ],
  xAxis: [...xAxesFor(0), ...xAxesFor(1)],
  yAxis: [
    ...yAxesFor(0, intensityRange2K, intensityStep2K, 38),
    ...yAxesFor(1, intensityRange300K, intensityStep300K, 36)
  ],
  series: [
    // 2 K
    obsSeries(scan(obs2KStartA, obs2KA).concat(scan(obs2KStartB, obs2KB)), 0, 0),
    lineSeries(calc2KA, 0, 0, CALC_BLACK, 2, 4),
    lineSeries(calc2KB, 0, 0, CALC_BLACK, 2, 4),
    lineSeries(diff2KA, 0, 0, DIFF_BLUE, 1, 4),
    lineSeries(diff2KB, 0, 0, DIFF_BLUE, 1, 4),
    braggSeries(bragg2K, bragg2KSpan, 0, 0),
    hklSeries(hkl2K, magneticHkl2K, 0, 0),
    // 300 K
    obsSeries(scan(obs300KStartA, obs300KA).concat(scan(obs300KStartB, obs300KB), scan(obs300KStartC, obs300KC)), 2, 2),
    lineSeries(calc300KA, 2, 2, CALC_BLACK, 2, 4),
    lineSeries(calc300KB, 2, 2, CALC_BLACK, 2, 4),
    lineSeries(calc300KC, 2, 2, CALC_BLACK, 2, 4),
    lineSeries(diff300KA, 2, 2, DIFF_BLUE, 1, 4),
    lineSeries(diff300KB, 2, 2, DIFF_BLUE, 1, 4),
    lineSeries(diff300KC, 2, 2, DIFF_BLUE, 1, 4),
    braggSeries(braggUpper300K, braggUpper300KSpan, 2, 2),
    braggSeries(braggLower300K, braggLower300KSpan, 2, 2),
    hklSeries(hkl300K, magneticHkl300K, 2, 2)
  ],
  graphic: [
    titleText(598, 55, '2'),
    titleText(591, 761, '300'),
    ...legendBlock({ markX: 699, lineX: [681, 717], textX: 745, rows: [115, 144, 174, 204] }),
    ...legendBlock({ markX: 701, lineX: [683, 718], textX: 748, rows: [817, 847, 877, 908] }),
    axisName('Intensity (a.u.)', 22, 341, true, 20),
    axisName('2θ (°)', 491, 674, false, 21),
    axisName('Intensity (a.u.)', 18, 1047, true, 20),
    axisName('2θ (°)', 491, 1382, false, 21)
  ]
});
</script>
</body>
</html>
